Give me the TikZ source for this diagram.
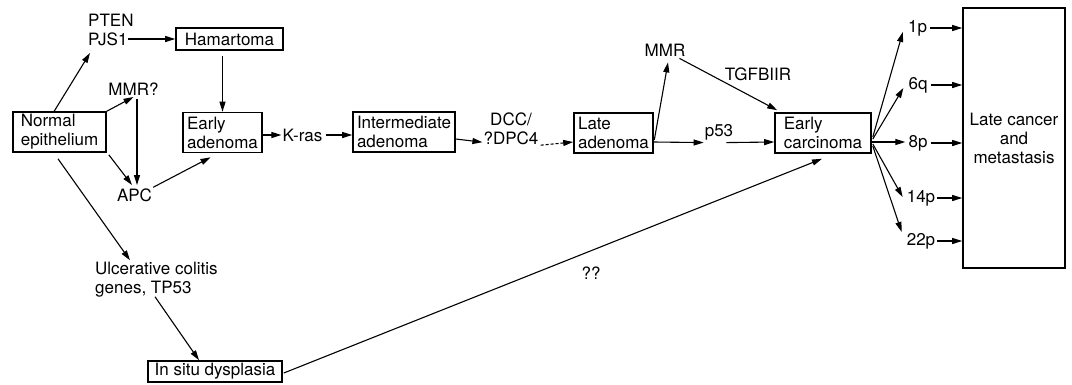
\documentclass[tikz,border=0pt]{standalone}
\usepackage{fontspec}
\setmainfont{TeX Gyre Heros}
\usetikzlibrary{arrows.meta,calc}
\begin{document}
\begin{tikzpicture}[x=1pt,y=-1pt,
  font=\fontsize{17}{19}\selectfont,
  box/.style={draw,line width=1.6pt,inner sep=0pt,align=left},
  lbl/.style={inner sep=0pt,align=left},
  arr/.style={line width=1.1pt,-{Triangle[length=10pt,width=6pt]}},
  ]
\useasboundingbox (0,0) rectangle (1072,384);
% boxes
\node[box,minimum width=93pt,minimum height=40pt] (normal) at (59.5,132) {Normal\\epithelium};
\node[box,minimum width=107pt,minimum height=22pt] (ham) at (229.5,39) {Hamartoma};
\node[box,minimum width=79pt,minimum height=40pt] (eadn) at (222.5,132.5) {Early\\adenoma};
\node[box,minimum width=102pt,minimum height=40pt] (inter) at (404,132) {Intermediate\\adenoma};
\node[box,minimum width=79pt,minimum height=40pt] (late) at (613.5,133) {Late\\adenoma};
\node[box,minimum width=96pt,minimum height=40pt] (ecarc) at (823,133) {Early\\carcinoma};
\node[box,minimum width=102pt,minimum height=260pt,align=center] (lcm) at (1014,138) {Late cancer\\and\\metastasis};
\node[box,minimum width=134pt,minimum height=21pt] (insitu) at (215,371.5) {In situ dysplasia};
% labels
\node[lbl,anchor=west] (pten) at (88,30) {PTEN\\PJS1};
\node[lbl] (mmrq) at (133.5,89) {MMR?};
\node[lbl] (apc) at (134.5,195) {APC};
\node[lbl] (kras) at (302.5,135) {K-ras};
\node[lbl,align=center] (dcc) at (511,129) {DCC/\\?DPC4};
\node[lbl] (mmr) at (665,50) {MMR};
\node[lbl] (tgf) at (758,74) {TGFBIIR};
\node[lbl] (p53) at (719,132.5) {p53};
\node[lbl,anchor=west] (uc) at (95,280) {Ulcerative colitis\\genes, TP53};
\node[lbl] (qq) at (591,273) {??};
\node[lbl] (c1) at (917.5,28) {1p};
\node[lbl] (c6) at (918,85) {6q};
\node[lbl] (c8) at (918,143) {8p};
\node[lbl] (c14) at (921,198) {14p};
\node[lbl] (c22) at (921,241) {22p};
% connectors
\draw[arr] ($(normal.north west)+(42,0)$) -- ($(pten.west)+(2,23)$);
\draw[arr] ($(pten.west)+(40,9)$) -- (ham.west);
\draw[arr] ($(eadn.north |- ham.south)+(0,5)$) -- (eadn.north);
\draw[arr] (normal.north east) -- ($(mmrq)+(0,8)$);
\draw[arr] ($(mmrq)+(3.5,10)$) -- ($(apc)+(2.5,-10)$);
\draw[arr] ($(normal.south east)+(2,2)$) -- ($(apc)+(-2.5,-10)$);
\draw[arr] ($(apc.north east)+(1,-1)$) -- ($(eadn.south)+(-12,4)$);
\draw[arr,shorten >=1pt] (eadn.east |- kras.west) -- (kras.west);
\draw[arr] ($(kras.east)+(3,0)$) -- (inter.west |- kras.east);
\draw[arr] ($(inter.east)+(0,7)$) -- ($(dcc.south west)+(-1,-3)$);
\draw[arr,dash pattern=on 3pt off 2pt] ($(dcc.south east)+(2,0)$) -- ($(late.west)+(0,9)$);
\draw[arr] ($(late.east)+(0.5,7)$) -- ($(mmr.south)+(3,6)$);
\draw[arr] ($(mmr.south east)+(-6,2)$) -- ($(ecarc.north west)+(3,-2)$);
\draw[arr] ($(late.east)+(0,9)$) -- ($(p53.south west)+(-1,2)$);
\draw[arr] ($(p53.south east)+(-7,2)$) -- ($(ecarc.west)+(0,9)$);
\draw[arr] ($(insitu.east)+(1,1.5)$) -- ($(ecarc.south)+(-1,5)$);
\draw[arr] ($(normal.south)+(-1.5,6)$) -- ($(uc.north west)+(35,-2)$);
\draw[arr] ($(uc.south west)+(60,-1)$) -- ($(insitu.north)+(-16,0)$);
\draw[arr] ($(ecarc.east)+(1,4)$) -- ($(c1.west)+(-5,4)$);
\draw[arr] ($(ecarc.east)+(1,6)$) -- ($(c6.west)+(-5,3)$);
\draw[arr] ($(ecarc.east)+(0,9)$) -- ($(c8.west)+(-3,-1)$);
\draw[arr] ($(ecarc.east)+(1,11)$) -- ($(c14.west)+(-4,-1)$);
\draw[arr] ($(ecarc.east)+(1,13)$) -- ($(c22.north west)+(-5,-1)$);
\draw[arr] ($(c1.east)+(3,0)$) -- (lcm.west |- c1.east);
\draw[arr] ($(c6.east)+(3,0)$) -- (lcm.west |- c6.east);
\draw[arr] ($(c8.east)+(3,0)$) -- (lcm.west |- c8.east);
\draw[arr] ($(c14.east)+(2,0)$) -- (lcm.west |- c14.east);
\draw[arr] ($(c22.east)+(2,0)$) -- (lcm.west |- c22.east);
\end{tikzpicture}
\end{document}
